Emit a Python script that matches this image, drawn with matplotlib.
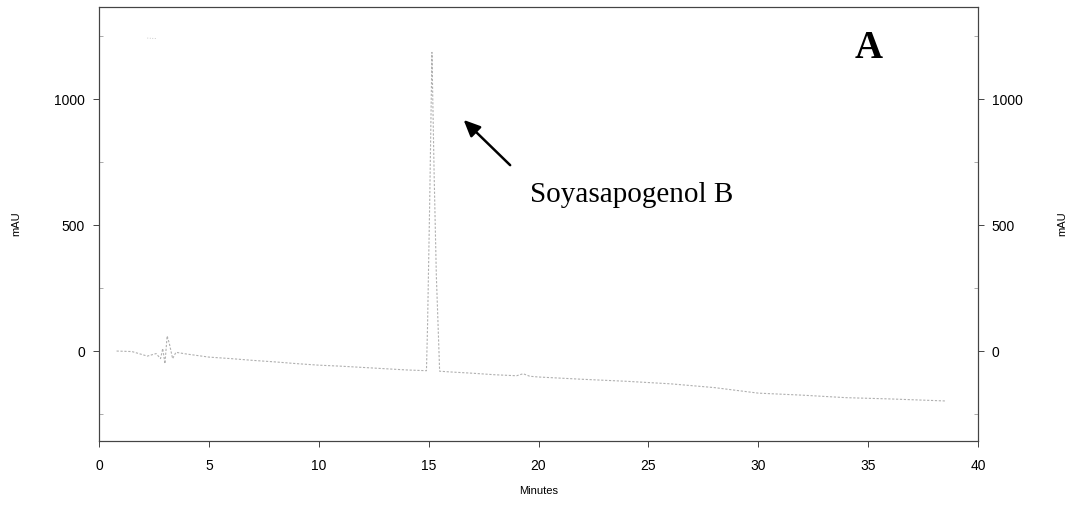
import matplotlib

matplotlib.use("Agg")
import matplotlib.pyplot as plt
from matplotlib.ticker import MultipleLocator

# chromatogram trace (minutes, mAU)
time_min = [0.8, 1.5, 2.2, 2.6, 2.8, 2.9, 3.0, 3.1, 3.2, 3.35, 3.5, 4.0, 5.0, 6.0, 7.0,
            8.0, 9.0, 10.0, 11.0, 12.0, 13.0, 14.0, 14.9, 14.95, 15.05, 15.15, 15.25,
            15.35, 15.45, 15.5, 16.0, 17.0, 18.0, 19.0, 19.3, 19.6, 20.0, 22.0, 24.0,
            26.0, 28.0, 30.0, 32.0, 34.0, 36.0, 38.5]
signal_mau = [0, -2, -20, -10, -30, 10, -50, 60, 30, -30, -5, -12, -24, -30, -37,
              -43, -50, -56, -60, -65, -70, -75, -78, 100, 600, 1185, 700,
              300, 50, -80, -83, -88, -94, -98, -90, -100, -103, -112, -120,
              -130, -145, -167, -175, -185, -190, -198]

# faint stray trace segment near the top-left
stray_time = [2.2, 2.6]
stray_mau = [1242, 1240]

x_ticks = [0, 5, 10, 15, 20, 25, 30, 35, 40]
y_ticks = [0, 500, 1000]

fig = plt.figure(figsize=(10.75, 5.05), dpi=100)
ax = fig.add_axes([0.0921, 0.1267, 0.8177, 0.8593])

ax.plot(time_min, signal_mau, color="#b0b0b0", linewidth=0.8, linestyle=(0, (2, 1.5)))
ax.plot(stray_time, stray_mau, color="#b8b8b8", linewidth=0.6, linestyle=(0, (1, 2)))

ax.set_xlim(0, 40)
ax.set_ylim(-357, 1365)
ax.set_xticks(x_ticks)
ax.set_yticks(y_ticks)
ax.yaxis.set_minor_locator(MultipleLocator(250))
ax.tick_params(axis="both", which="major", direction="out", length=4, width=0.7,
               color="#444444", labelsize=10, pad=6)
ax.tick_params(axis="x", which="major", pad=9)
ax.tick_params(axis="y", which="minor", direction="in", length=3, width=0.5, color="#888888")
for side in ax.spines.values():
    side.set_color("#444444")
    side.set_linewidth(0.8)

font_ticks = "Liberation Sans"
for lab in ax.get_xticklabels() + ax.get_yticklabels():
    lab.set_family(font_ticks)

ax.set_xlabel("Minutes", fontsize=8, family=font_ticks, labelpad=9)
ax.set_ylabel("mAU", fontsize=8, family=font_ticks, labelpad=24)

ax2 = ax.twinx()
ax2.set_ylim(ax.get_ylim())
ax2.set_yticks(y_ticks)
ax2.yaxis.set_minor_locator(MultipleLocator(250))
ax2.tick_params(axis="y", which="major", direction="out", length=4, width=0.7,
                color="#444444", labelsize=10, pad=6)
ax2.tick_params(axis="y", which="minor", direction="in", length=3, width=0.5, color="#888888")
for lab in ax2.get_yticklabels():
    lab.set_family(font_ticks)
ax2.set_ylabel("mAU", fontsize=8, family=font_ticks, labelpad=25, rotation=90)
for side in ax2.spines.values():
    side.set_color("#444444")
    side.set_linewidth(0.8)

ax.annotate("", xy=(16.5, 925), xytext=(18.8, 730),
            arrowprops=dict(arrowstyle="-|>,head_length=1.0,head_width=0.45",
                            color="black", linewidth=1.8))
ax.text(19.6, 619, "Soyasapogenol B", fontsize=21, family="Liberation Serif",
        ha="left", va="center")
ax.text(35.0, 1202, "A", fontsize=28, fontweight="bold", family="Liberation Serif",
        ha="center", va="center")

fig.savefig("out.png", dpi=100)
